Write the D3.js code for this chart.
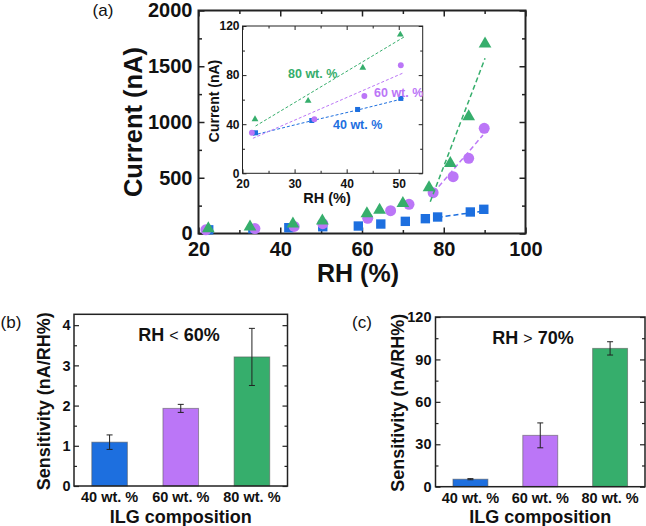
<!DOCTYPE html>
<html>
<head>
    <script src="https://d3js.org/d3.v7.min.js"></script>
    <style>
        body { margin: 0; background: #fff; }
        text { font-family: 'Liberation Sans', Arial, sans-serif; }
    </style>
</head>
<body>

<script>
// ---- data ----
// panel (a): current vs RH for three ILG compositions
const rh40 = [22.5, 33.3, 42.1, 50.4, 59.1, 64.6, 70.6, 75.5, 78.5, 86.5, 89.8];
const cur40 = [33, 43, 52, 61, 67, 85, 109, 133, 148, 193, 217];
const rh60 = [21.8, 33.8, 43.4, 50.4, 61.4, 67.0, 71.5, 77.4, 82.3, 86.1, 89.9];
const cur60 = [33, 44, 63, 88, 136, 205, 262, 366, 510, 674, 943];
const rh80 = [22.4, 32.6, 43.1, 50.3, 61.2, 64.3, 70.0, 76.4, 81.6, 86.1, 90.1];
const cur80 = [44, 59, 86, 113, 178, 211, 271, 411, 630, 1048, 1700];

// dashed fits, high humidity (main plot)
const fitHiRh40 = [78.5, 89.5], fitHiCur40 = [145, 200];
const fitHiRh60 = [77.5, 89.6], fitHiCur60 = [366, 883];
const fitHiRh80 = [76.7, 90.1], fitHiCur80 = [285, 1571];
// dashed fits, low humidity (inset)
const fitLoRh40 = [22, 33.5, 42.5, 51], fitLoCur40 = [31, 43, 52, 61];
const fitLoRh60 = [22, 51], fitLoCur60 = [28.5, 82];
const fitLoRh80 = [22.5, 51], fitLoCur80 = [38.5, 111];

// panels (b) and (c): sensitivity per composition
const compositions = ['40 wt. %', '60 wt. %', '80 wt. %'];
const sensLow = [1.09, 1.93, 3.21];
const sensLowErr = [0.18, 0.10, 0.71];
const sensHigh = [5.3, 36.3, 97.8];
const sensHighErr = [0.4, 8.8, 4.7];

const colors = ['#1d6fdf', '#bb76f7', '#36ae6c'];

const svg = d3.select('body')
    .append('svg')
    .attr('width', 646)
    .attr('height', 526);

// inward ticks on all four sides of a box
function ticksAll(g, x, y, o) {
    const [x0, x1] = x.range();
    const [y0, y1] = y.range();
    const set = (sel, fs) => {
        sel.select('.domain').remove();
        sel.selectAll('line').attr('stroke', '#222').attr('stroke-width', o.tw || 1);
        sel.selectAll('text').attr('font-size', fs).attr('font-weight', 'bold').attr('fill', '#111')
            .style('font-family', "'Liberation Sans', Arial, sans-serif");
    };
    if (o.xMajor) {
        g.append('g').attr('transform', `translate(0,${y0})`)
            .call(d3.axisBottom(x).tickValues(o.xMajor).tickSize(-o.major).tickPadding(o.xPad).tickFormat(d3.format('d')))
            .call(s => set(s, o.xfs));
        g.append('g').attr('transform', `translate(0,${y0})`)
            .call(d3.axisBottom(x).tickValues(o.xMinor).tickSize(-o.minor).tickFormat(''))
            .call(s => set(s, o.xfs));
        g.append('g').attr('transform', `translate(0,${y1})`)
            .call(d3.axisTop(x).tickValues(o.xMajor).tickSize(-o.major).tickFormat(''))
            .call(s => set(s, o.xfs));
        g.append('g').attr('transform', `translate(0,${y1})`)
            .call(d3.axisTop(x).tickValues(o.xMinor).tickSize(-o.minor).tickFormat(''))
            .call(s => set(s, o.xfs));
    }
    g.append('g').attr('transform', `translate(${x0},0)`)
        .call(d3.axisLeft(y).tickValues(o.yMajor).tickSize(-o.major).tickPadding(o.yPad).tickFormat(d3.format('d')))
        .call(s => set(s, o.yfs));
    g.append('g').attr('transform', `translate(${x0},0)`)
        .call(d3.axisLeft(y).tickValues(o.yMinor).tickSize(-o.minor).tickFormat(''))
        .call(s => set(s, o.yfs));
    g.append('g').attr('transform', `translate(${x1},0)`)
        .call(d3.axisRight(y).tickValues(o.yMajor).tickSize(-o.major).tickFormat(''))
        .call(s => set(s, o.yfs));
    g.append('g').attr('transform', `translate(${x1},0)`)
        .call(d3.axisRight(y).tickValues(o.yMinor).tickSize(-o.minor).tickFormat(''))
        .call(s => set(s, o.yfs));
    g.append('rect')
        .attr('x', x0).attr('y', y1)
        .attr('width', x1 - x0).attr('height', y0 - y1)
        .attr('fill', 'none').attr('stroke', '#222').attr('stroke-width', o.fw);
}

function label(g, txt, x, y, fs, opts = {}) {
    const t = g.append('text')
        .attr('x', x).attr('y', y)
        .attr('font-size', fs)
        .attr('font-weight', opts.weight || 'bold')
        .attr('fill', opts.fill || '#111')
        .attr('text-anchor', opts.anchor || 'middle')
        .text(txt);
    if (opts.rotate) t.attr('transform', `rotate(-90,${x},${y})`);
    return t;
}

// ================= panel (a) =================
const gA = svg.append('g');
const xA = d3.scaleLinear().domain([20, 100]).range([198.5, 525.5]);
const yA = d3.scaleLinear().domain([0, 2000]).range([233.5, 10.5]);

ticksAll(gA, xA, yA, {
    xMajor: [20, 40, 60, 80, 100], xMinor: [30, 50, 70, 90],
    yMajor: [0, 500, 1000, 1500, 2000], yMinor: [250, 750, 1250, 1750],
    major: 6, minor: 3.5, xPad: 8, yPad: 6, xfs: 20, yfs: 20, fw: 2, tw: 1.5
});

const seriesA = [
    { rh: rh40, cur: cur40, shape: d3.symbolSquare, size: 88, c: colors[0], fr: fitHiRh40, fc: fitHiCur40, lr: fitLoRh40, lc: fitLoCur40 },
    { rh: rh60, cur: cur60, shape: d3.symbolCircle, size: 95, c: colors[1], fr: fitHiRh60, fc: fitHiCur60, lr: fitLoRh60, lc: fitLoCur60 },
    { rh: rh80, cur: cur80, shape: d3.symbolTriangle, size: 70, c: colors[2], fr: fitHiRh80, fc: fitHiCur80, lr: fitLoRh80, lc: fitLoCur80 }
];

seriesA.forEach(s => {
    gA.append('path')
        .datum(s.fr.map((v, i) => [v, s.fc[i]]))
        .attr('fill', 'none').attr('stroke', s.c).attr('stroke-width', 1.5)
        .attr('stroke-dasharray', '5,3')
        .attr('d', d3.line().x(d => xA(d[0])).y(d => yA(d[1])));
    gA.selectAll(null)
        .data(s.rh.map((v, i) => [v, s.cur[i]]))
        .enter().append('path')
        .attr('transform', d => `translate(${xA(d[0])},${yA(d[1])})`)
        .attr('d', d3.symbol().type(s.shape).size(s.size))
        .attr('fill', s.c);
});

label(gA, 'Current (nA)', 141.5, 122, 25.5, { rotate: true });
label(gA, 'RH (%)', 358, 282, 25);
label(gA, '(a)', 103, 16, 17, { weight: 'normal' });

// ---- inset ----
const gI = svg.append('g');
const xI = d3.scaleLinear().domain([20, 54.6]).range([242.5, 422.7]);
const yI = d3.scaleLinear().domain([0, 120]).range([173.3, 26]);
gI.append('rect').attr('x', 242.5).attr('y', 26).attr('width', 180.2).attr('height', 147.3).attr('fill', '#fff');
ticksAll(gI, xI, yI, {
    xMajor: [20, 30, 40, 50], xMinor: [25, 35, 45],
    yMajor: [0, 40, 80, 120], yMinor: [20, 60, 100],
    major: 4, minor: 2.5, xPad: 6, yPad: 3, xfs: 12, yfs: 12, fw: 1, tw: 1
});
seriesA.forEach(s => {
    gI.append('path')
        .datum(s.lr.map((v, i) => [v, s.lc[i]]))
        .attr('fill', 'none').attr('stroke', s.c).attr('stroke-width', 1)
        .attr('stroke-dasharray', '3,2')
        .attr('d', d3.line().curve(d3.curveMonotoneX).x(d => xI(d[0])).y(d => yI(d[1])));
    gI.selectAll(null)
        .data(s.rh.map((v, i) => [v, s.cur[i]]).filter(d => d[0] < 54))
        .enter().append('path')
        .attr('transform', d => `translate(${xI(d[0])},${yI(d[1])})`)
        .attr('d', d3.symbol().type(s.shape).size(s.size / 3.5))
        .attr('fill', s.c);
});
label(gI, 'Current (nA)', 218.5, 101, 14, { rotate: true });
label(gI, 'RH (%)', 327, 203, 14.5);
label(gI, '80 wt. %', 288, 77.5, 12.5, { anchor: 'start', fill: colors[2] });
label(gI, '60 wt. %', 374, 96.5, 12.5, { anchor: 'start', fill: colors[1] });
label(gI, '40 wt. %', 333, 128.5, 12.5, { anchor: 'start', fill: colors[0] });

// ================= panels (b), (c) =================
function barPanel(vals, errs, xr, yr, ymax, yMajor, yMinor, yPad, tag, tagX, title, titleX, sym, ylabX) {
    const g = svg.append('g');
    const x = d3.scaleBand().domain(compositions).range(xr).paddingInner(0.5).paddingOuter(0.25);
    const y = d3.scaleLinear().domain([0, ymax]).range(yr);

    g.selectAll('rect.bar')
        .data(vals)
        .enter().append('rect')
        .attr('class', 'bar')
        .attr('x', (d, i) => x(compositions[i]))
        .attr('y', d => y(d))
        .attr('width', x.bandwidth())
        .attr('height', d => y(0) - y(d))
        .attr('fill', (d, i) => colors[i])
        .attr('stroke', '#555').attr('stroke-opacity', 0.55).attr('stroke-width', 1);

    const eb = g.selectAll('g.err')
        .data(vals)
        .enter().append('g').attr('class', 'err');
    const cx = (i) => x(compositions[i]) + x.bandwidth() / 2;
    eb.append('line')
        .attr('x1', (d, i) => cx(i)).attr('x2', (d, i) => cx(i))
        .attr('y1', (d, i) => y(d + errs[i])).attr('y2', (d, i) => y(d - errs[i]))
        .attr('stroke', '#222').attr('stroke-width', 1);
    [1, -1].forEach(sg => {
        eb.append('line')
            .attr('x1', (d, i) => cx(i) - 3).attr('x2', (d, i) => cx(i) + 3)
            .attr('y1', (d, i) => y(d + sg * errs[i])).attr('y2', (d, i) => y(d + sg * errs[i]))
            .attr('stroke', '#222').attr('stroke-width', 1);
    });

    ticksAll(g, d3.scaleLinear().range(xr), y, {
        yMajor, yMinor, major: 5, minor: 3, yPad, yfs: 14.5, fw: 1.5, tw: 1.2
    });

    g.append('g').attr('transform', `translate(0,${yr[0]})`)
        .call(d3.axisBottom(x).tickSize(0).tickPadding(6))
        .call(s => {
            s.select('.domain').remove();
            s.selectAll('text').attr('font-size', 14.5).attr('font-weight', 'bold').attr('fill', '#111')
                .style('font-family', "'Liberation Sans', Arial, sans-serif");
        });

    const cxAll = (xr[0] + xr[1]) / 2;
    label(g, 'ILG composition', cxAll, 522.5, 18);
    label(g, 'Sensitivity (nA/RH%)', ylabX, (yr[0] + yr[1]) / 2 + 1, 18, { rotate: true });
    label(g, tag, tagX, 328, 17, { weight: 'normal' });
    const t = g.append('text')
        .attr('x', titleX).attr('y', yr[1] + 27)
        .attr('font-size', 18).attr('font-weight', 'bold').attr('fill', '#111')
        .attr('text-anchor', 'middle');
    t.append('tspan').text('RH ');
    t.append('tspan').attr('font-weight', 'normal').attr('font-size', 16).text(sym);
    t.append('tspan').text(' ' + title);
}

barPanel(sensLow, sensLowErr, [74, 287.5], [486, 314.3], 4.27,
    [0, 1, 2, 3, 4], [0.5, 1.5, 2.5, 3.5], 3.5, '(b)', 11, '60%', 179, '<', 50);
barPanel(sensHigh, sensHighErr, [435.5, 645], [486.7, 317], 120,
    [0, 30, 60, 90, 120], [15, 45, 75, 105], 4, '(c)', 362, '70%', 533, '>', 404.5);
</script>

</body>
</html>
